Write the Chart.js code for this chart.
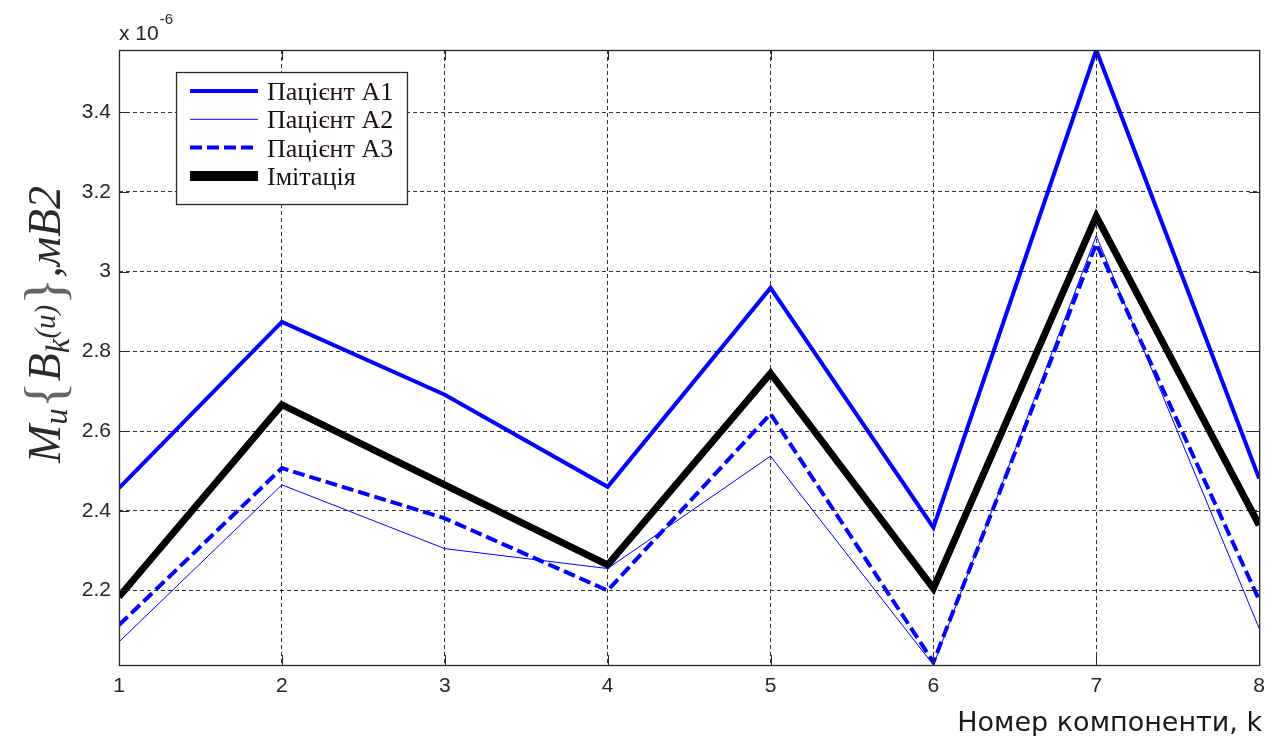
<!DOCTYPE html>
<html>
<head>
<meta charset="utf-8">
<script src="https://cdn.jsdelivr.net/npm/chart.js@4/dist/chart.umd.min.js"></script>
<style>
  html, body { margin: 0; padding: 0; background: #fff; overflow: hidden; }
  #wrap { width: 1274px; height: 736px; position: relative; }
</style>
</head>
<body>
<div id="wrap"><canvas id="c" width="1274" height="736"></canvas></div>
<script>
// Component number k
const components = [1, 2, 3, 4, 5, 6, 7, 8];
// Mean values, in units of 1e-6 mV^2
const patientA1 = [2.457, 2.874, 2.691, 2.460, 2.959, 2.358, 3.556, 2.481];
const patientA2 = [2.071, 2.465, 2.305, 2.255, 2.537, 2.013, 3.090, 2.105];
const patientA3 = [2.113, 2.507, 2.381, 2.200, 2.643, 2.020, 3.070, 2.176];
const imitation = [2.184, 2.666, 2.465, 2.264, 2.745, 2.205, 3.139, 2.364];
const seriesNames = ['Пацієнт А1', 'Пацієнт А2', 'Пацієнт А3', 'Імітація'];
const yTickValues = [2.2, 2.4, 2.6, 2.8, 3.0, 3.2, 3.4];

const toPoints = arr => components.map((k, i) => ({ x: k, y: arr[i] }));
const allValues = [].concat(patientA1, patientA2, patientA3, imitation);
const yMin = Math.min(...allValues);
const yMax = Math.max(...allValues);

const AXIS = '#262626';

// Box, inward tick marks, exponent label and axis titles
const framePlugin = {
  id: 'frame',
  afterDatasetsDraw(chart) {
    const { ctx, chartArea: a, scales } = chart;
    ctx.save();
    ctx.strokeStyle = AXIS;
    ctx.lineWidth = 1;
    ctx.setLineDash([]);
    const tl = 10;
    ctx.beginPath();
    scales.x.ticks.forEach(t => {
      const px = Math.round(scales.x.getPixelForValue(t.value)) + 0.5;
      ctx.moveTo(px, a.bottom); ctx.lineTo(px, a.bottom - tl);
      ctx.moveTo(px, a.top); ctx.lineTo(px, a.top + tl);
    });
    scales.y.ticks.forEach(t => {
      const py = Math.round(scales.y.getPixelForValue(t.value)) + 0.5;
      ctx.moveTo(a.left, py); ctx.lineTo(a.left + tl, py);
      ctx.moveTo(a.right, py); ctx.lineTo(a.right - tl, py);
    });
    ctx.stroke();
    ctx.lineWidth = 1.3;
    ctx.strokeRect(a.left + 0.5, a.top + 0.5, a.right - a.left, a.bottom - a.top);
    ctx.restore();
  },
  afterDraw(chart) {
    const { ctx, chartArea: a } = chart;
    ctx.save();
    // exponent
    ctx.fillStyle = AXIS;
    ctx.textBaseline = 'alphabetic';
    ctx.textAlign = 'left';
    ctx.font = '21px "Liberation Sans", Arial, sans-serif';
    ctx.fillText('x 10', a.left, 40);
    const w = ctx.measureText('x 10').width;
    ctx.font = '15px "Liberation Sans", Arial, sans-serif';
    ctx.fillText('-6', a.left + w + 1, 24);

    // x title
    ctx.fillStyle = '#1a1a1a';
    ctx.font = '27px "DejaVu Sans", sans-serif';
    ctx.textAlign = 'right';
    ctx.fillText('Номер компоненти, k', a.right + 3, 731);

    // y title, rotated, built from pieces with sub/superscripts
    const parts = [
      { t: 'M', size: 46, it: true, dy: 0 },
      { t: 'u', size: 33, it: true, dy: 7 },
      { t: '{', size: 56, it: false, dy: 4, c: '#666' },
      { t: 'B', size: 46, it: true, dy: 0 },
      { t: 'k', size: 33, it: true, dy: 9 },
      { t: '(u)', size: 29, it: true, dy: -5 },
      { t: '}', size: 56, it: false, dy: 4, c: '#666' },
      { t: ',', size: 46, it: true, dy: 0 },
      { t: 'мB2', size: 46, it: true, dy: 0 }
    ];
    ctx.translate(60, 463);
    ctx.rotate(-Math.PI / 2);
    ctx.textAlign = 'left';
    let x = 0;
    parts.forEach(p => {
      ctx.font = (p.it ? 'italic ' : '') + p.size + 'px "Liberation Serif", "Times New Roman", serif';
      ctx.fillStyle = p.c || '#2a2a2a';
      ctx.fillText(p.t, x, p.dy);
      x += ctx.measureText(p.t).width;
    });
    ctx.restore();
  }
};

// Boxed legend in the upper-left of the plot
const boxLegendPlugin = {
  id: 'boxLegend',
  afterDraw(chart) {
    const { ctx } = chart;
    const box = { x: 176, y: 72, w: 231, h: 132 };
    ctx.save();
    ctx.fillStyle = '#fff';
    ctx.fillRect(box.x, box.y, box.w, box.h);
    ctx.strokeStyle = AXIS;
    ctx.lineWidth = 1.3;
    ctx.strokeRect(box.x + 0.5, box.y + 0.5, box.w, box.h);
    chart.data.datasets.forEach((ds, i) => {
      const base = 100 + i * 28.3;
      const ly = base - 9;
      ctx.strokeStyle = ds.borderColor;
      ctx.lineWidth = ds.borderWidth + (i === 3 ? 3 : 0);
      ctx.setLineDash(ds.borderDash || []);
      ctx.lineCap = 'butt';
      ctx.beginPath();
      ctx.moveTo(190, ly);
      ctx.lineTo(258, ly);
      ctx.stroke();
      ctx.setLineDash([]);
      ctx.fillStyle = '#1c1212';
      ctx.font = '26px "Liberation Serif", "Times New Roman", serif';
      ctx.textAlign = 'left';
      ctx.textBaseline = 'alphabetic';
      ctx.fillText(ds.label, 267, base);
    });
    ctx.restore();
  }
};

const mkSet = (label, data, color, width, dash) => ({
  label, data: toPoints(data), borderColor: color, backgroundColor: color,
  borderWidth: width, borderDash: dash, fill: false, pointRadius: 0,
  tension: 0, borderJoinStyle: 'miter', borderCapStyle: 'butt', clip: 0
});

new Chart(document.getElementById('c'), {
  type: 'line',
  data: {
    datasets: [
      mkSet(seriesNames[0], patientA1, '#0000ff', 4, []),
      mkSet(seriesNames[1], patientA2, '#0000ff', 1, []),
      mkSet(seriesNames[2], patientA3, '#0000ff', 4, [12, 5]),
      mkSet(seriesNames[3], imitation, '#000000', 7, [])
    ]
  },
  options: {
    responsive: false,
    animation: false,
    devicePixelRatio: 1,
    layout: { padding: { top: 50, right: 12, left: 0, bottom: 0 } },
    plugins: { legend: { display: false }, tooltip: { enabled: false } },
    scales: {
      x: {
        type: 'linear',
        min: components[0],
        max: components[components.length - 1],
        afterBuildTicks: s => { s.ticks = components.map(v => ({ value: v })); },
        afterFit: s => { s.height = 71; },
        grid: { color: '#333', lineWidth: 1, drawTicks: false },
        border: { display: false, dash: [4, 3] },
        ticks: {
          padding: 9, color: AXIS, maxRotation: 0, autoSkip: false,
          font: { family: '"Liberation Sans", Arial, sans-serif', size: 21 },
          callback: v => String(v)
        }
      },
      y: {
        type: 'linear',
        min: yMin,
        max: yMax,
        afterBuildTicks: s => { s.ticks = yTickValues.map(v => ({ value: v })); },
        afterFit: s => { s.width = 119; },
        grid: { color: '#333', lineWidth: 1, drawTicks: false },
        border: { display: false, dash: [4, 3] },
        ticks: {
          padding: 8, color: AXIS,
          font: { family: '"Liberation Sans", Arial, sans-serif', size: 21 },
          callback: v => String(Number(v.toFixed(1)))
        }
      }
    }
  },
  plugins: [framePlugin, boxLegendPlugin]
});
</script>
</body>
</html>
